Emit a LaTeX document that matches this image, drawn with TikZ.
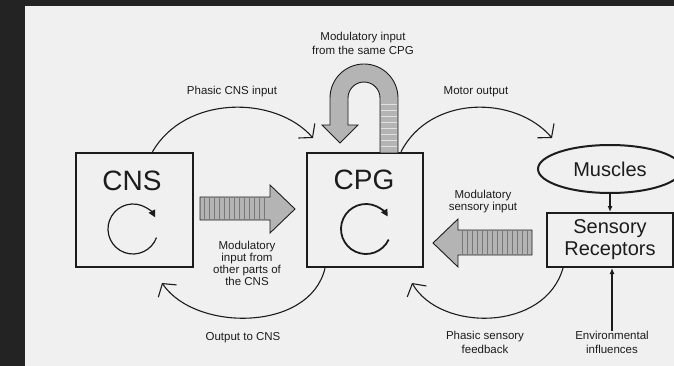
\documentclass[tikz,border=0pt]{standalone}
\usepackage{fontspec}
\setmainfont{Liberation Sans}
\usetikzlibrary{arrows.meta, shapes.geometric, positioning}
\definecolor{frame}{RGB}{35, 35, 35}
\definecolor{paper}{RGB}{240, 240, 240}
\definecolor{ink}{RGB}{28, 28, 28}
\definecolor{band}{RGB}{180, 180, 180}
\definecolor{stripe}{RGB}{120, 120, 120}

\begin{document}
\begin{tikzpicture}[x=1pt, y=-1pt,
    block/.style={draw=ink, line width=2.4pt, minimum width=#1, minimum height=114pt, inner sep=0pt},
    big/.style={font=\fontsize{28}{30}\selectfont, text=ink, inner sep=0pt},
    lbl/.style={font=\fontsize{11.5}{#1}\selectfont, align=center, text=ink, inner sep=0pt},
    lbl/.default=12pt,
    flow/.style={draw=ink, line width=1.1pt, -{Straight Barb[length=9pt, width=22pt]}},
    feed/.style={draw=ink, line width=1.2pt, -{Latex[length=6pt, width=5pt]}},
    spin/.style={draw=ink, line width=#1, -{Triangle[length=7pt, width=7pt]}},
    fat/.style={fill=band, draw=ink, line width=0.9pt}
]
    % Frame
    \fill[frame] (0,0) rectangle (674,366);
    \fill[paper] (25,6) rectangle (674,366);
    \useasboundingbox (0,0) rectangle (674,366);

    % Boxes
    \node[block=117pt] (cns) at (134.5,210) {};
    \node[block=116pt] (cpg) at (365,210) {};
    \node[ellipse, draw=ink, line width=2pt, minimum width=144pt, minimum height=48pt, inner sep=0pt,
          font=\fontsize{20}{22}\selectfont, text=ink] (muscles) at (610,169) {Muscles};
    \node[draw=ink, line width=2pt, minimum width=126pt, minimum height=54pt, inner sep=0pt, align=center,
          font=\fontsize{20}{22}\selectfont, text=ink] (sensory) at (610,240) {Sensory\\Receptors};

    \node[big] (cnstext) at (132,181) {CNS};
    \node[big] (cpgtext) at (364,180) {CPG};

    % Rhythm symbols
    \coordinate (cnsspin) at (133,229);
    \coordinate (cpgspin) at (366,229);
    \draw[spin=1.2pt] ([shift={(20:25)}]cnsspin) arc[start angle=20, end angle=332, radius=25];
    \draw[spin=1.8pt] ([shift={(25:25)}]cpgspin) arc[start angle=25, end angle=330, radius=25];

    % Labels
    \node[lbl=14pt] (samecpg) at (363,43) {Modulatory input\\from the same CPG};
    \node[lbl] (phasiccns) at (232,92) {Phasic CNS input};
    \node[lbl] (motor) at (476,92) {Motor output};
    \node[lbl] (otherparts) at (247,263) {Modulatory\\input from\\other parts of\\the CNS};
    \node[lbl] (outcns) at (243,338) {Output to CNS};
    \node[lbl] (modsens) at (483,202) {Modulatory\\sensory input};
    \node[lbl=14pt] (phasicsens) at (485,342) {Phasic sensory\\feedback};
    \node[lbl=14pt] (env) at (612,342) {Environmental\\influences};

    % Arrow ends
    \coordinate (cnsin) at (313,138);
    \coordinate (motorin) at (552,138);
    \coordinate (cnsback) at (162,283);
    \coordinate (sensback) at (412,283);

    % Thin arrows
    \draw[flow] ([xshift=18pt]cns.north) .. controls (185,95) and (275,95) .. (cnsin);
    \draw[flow] ([xshift=36pt]cpg.north) .. controls (430,95) and (515,95) .. (motorin);
    \draw[flow] ([xshift=-40pt]cpg.south) .. controls (310,332) and (195,332) .. (cnsback);
    \draw[flow] ([xshift=-47pt]sensory.south) .. controls (545,332) and (440,332) .. (sensback);
    \draw[feed] (muscles.south) -- (sensory.north);
    \draw[feed] (env.north) -- (env.north |- sensory.south);

    % Block arrows
    \draw[fat] (200,197) -- (270,197) -- (270,185) -- (295,209) -- (270,233) -- (270,220) -- (200,220) -- cycle;
    \foreach \x in {204,209,...,266}
        \draw[stripe, line width=0.7pt] (\x,198) -- (\x,219);
    \draw[fat] (532,230) -- (458,230) -- (458,219) -- (433,243) -- (458,267) -- (458,255) -- (532,255) -- cycle;
    \foreach \x in {462,467,...,528}
        \draw[stripe, line width=0.7pt] (\x,231) -- (\x,254);

    % Self loop
    \draw[fat] (398,153) -- (398,98) arc[start angle=0, end angle=-180, radius=34] -- (330,125) -- (322,125)
        -- (340,143) -- (358,125) -- (348,125) -- (348,98) arc[start angle=180, end angle=360, radius=16]
        -- (380,153) -- cycle;
    \foreach \y in {104,110,...,148}
        \draw[white!60!band, line width=0.6pt] (381,\y) -- (397,\y);
\end{tikzpicture}
\end{document}
